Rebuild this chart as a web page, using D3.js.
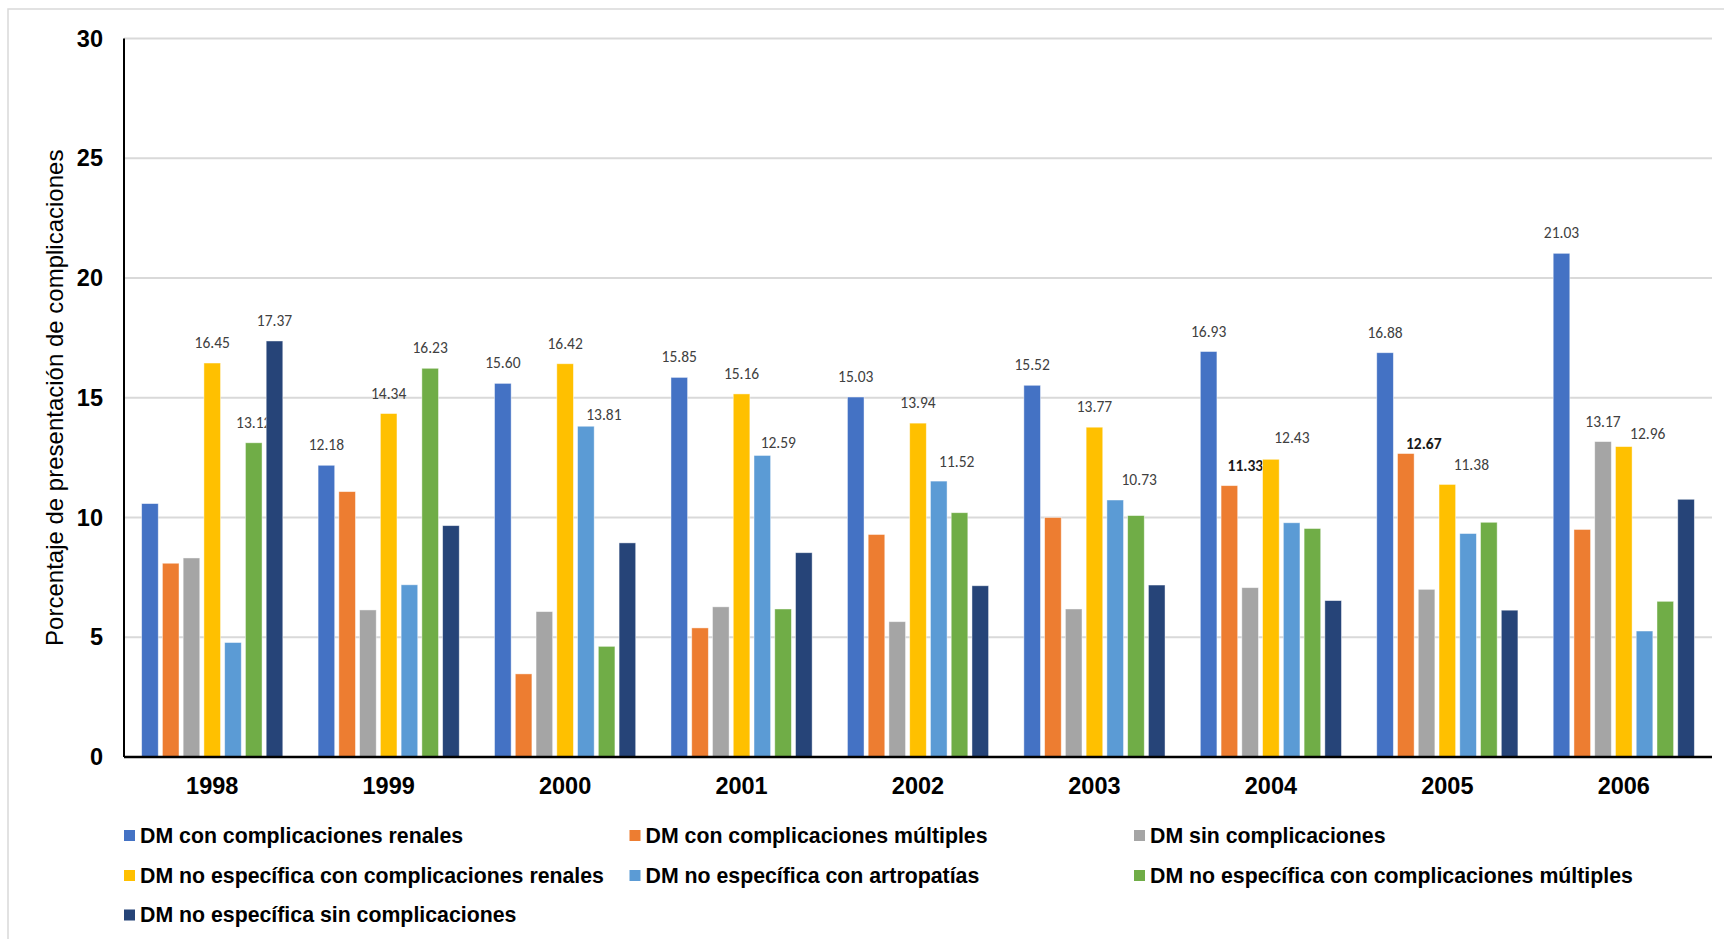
<!DOCTYPE html>
<html>
<head>
<meta charset="utf-8">
<script src="https://cdn.jsdelivr.net/npm/d3@7"></script>
<style>
  html, body { margin: 0; padding: 0; background: #ffffff; }
  svg { display: block; }
</style>
</head>
<body>
<svg id="chart" width="1724" height="939"></svg>
<script>
// Years on the category axis
const years = ["1998", "1999", "2000", "2001", "2002", "2003", "2004", "2005", "2006"];

// Series (legend order)
const seriesNames = [
  "DM con complicaciones renales",
  "DM con complicaciones múltiples",
  "DM sin complicaciones",
  "DM no específica con complicaciones renales",
  "DM no específica con artropatías",
  "DM no específica con complicaciones múltiples",
  "DM no específica sin complicaciones"
];

// Percentage of presentation, one value per year
const conRenales        = [10.58, 12.18, 15.60, 15.85, 15.03, 15.52, 16.93, 16.88, 21.03];
const conMultiples      = [8.09, 11.08, 3.47, 5.39, 9.29, 10.00, 11.33, 12.67, 9.50];
const sinComplicaciones = [8.31, 6.14, 6.07, 6.27, 5.65, 6.18, 7.07, 7.00, 13.17];
const noEspRenales      = [16.45, 14.34, 16.42, 15.16, 13.94, 13.77, 12.43, 11.38, 12.96];
const noEspArtropatias  = [4.78, 7.19, 13.81, 12.59, 11.52, 10.73, 9.78, 9.33, 5.26];
const noEspMultiples    = [13.12, 16.23, 4.62, 6.18, 10.20, 10.08, 9.54, 9.80, 6.50];
const noEspSin          = [17.37, 9.66, 8.94, 8.53, 7.15, 7.18, 6.53, 6.13, 10.76];

const seriesValues = [conRenales, conMultiples, sinComplicaciones, noEspRenales,
                      noEspArtropatias, noEspMultiples, noEspSin];

// Bars that carry a value label: [year, series index]
const labelledBars = [
  ["1998", 3], ["1998", 5], ["1998", 6],
  ["1999", 0], ["1999", 3], ["1999", 5],
  ["2000", 0], ["2000", 3], ["2000", 4],
  ["2001", 0], ["2001", 3], ["2001", 4],
  ["2002", 0], ["2002", 3], ["2002", 4],
  ["2003", 0], ["2003", 3], ["2003", 4],
  ["2004", 0], ["2004", 1], ["2004", 3],
  ["2005", 0], ["2005", 1], ["2005", 3],
  ["2006", 0], ["2006", 2], ["2006", 3]
];
const boldLabels = [["2004", 1], ["2005", 1]];

// Value axis ticks
const yTicks = [0, 5, 10, 15, 20, 25, 30];

// ---- styling / layout ----
const colors = ["#4472C4", "#ED7D31", "#A5A5A5", "#FFC000", "#5B9BD5", "#70AD47", "#264478"];
const labelNudge = {          // [dx, dy] in px for labels moved off their bar
  "2000-4": [18, 9], "2001-4": [16, 8], "2002-4": [18, 1], "2003-4": [24, 0],
  "2004-1": [16, 0], "2004-3": [21, -1],
  "2005-1": [18, 10], "2005-3": [24, 1],
  "2006-3": [24, 7]
};
const margin = { left: 124, right: 1712, top: 38.5, bottom: 757 };
const arial = "'Liberation Sans', Arial, Helvetica, sans-serif";
const calibri = "Carlito, Calibri, Lato, 'Open Sans', sans-serif";

const svg = d3.select("#chart");

// chart frame
svg.append("path")
  .attr("d", "M8,939 V9 H1724")
  .attr("fill", "none")
  .attr("stroke", "#d9d9d9")
  .attr("stroke-width", 1.5);

const x0 = d3.scaleBand()
  .domain(years)
  .range([margin.left, margin.right])
  .paddingInner(0.2)
  .paddingOuter(0.1);

const x1 = d3.scaleBand()
  .domain(d3.range(seriesNames.length))
  .range([0, x0.bandwidth()])
  .paddingInner(0.2)
  .paddingOuter(0);

const y = d3.scaleLinear()
  .domain([0, 30])
  .range([margin.bottom, margin.top]);

// gridlines
svg.append("g")
  .selectAll("line")
  .data(yTicks.filter(t => t > 0))
  .join("line")
  .attr("x1", margin.left)
  .attr("x2", margin.right)
  .attr("y1", d => y(d))
  .attr("y2", d => y(d))
  .attr("stroke", "#d9d9d9")
  .attr("stroke-width", 2);

// y tick labels via d3 axis
const yAxis = svg.append("g")
  .attr("transform", `translate(${margin.left},0)`)
  .call(d3.axisLeft(y).tickValues(yTicks).tickSize(0).tickPadding(21).tickFormat(d3.format("d")));
yAxis.select(".domain").remove();
yAxis.selectAll("text")
  .attr("font-family", arial)
  .attr("font-weight", "bold")
  .attr("font-size", "23.5px")
  .attr("fill", "#000");

// bars and their labels, series by series
const isLabelled = (yr, s) => labelledBars.some(([a, b]) => a === yr && b === s);
const isBold = (yr, s) => boldLabels.some(([a, b]) => a === yr && b === s);

seriesValues.forEach((vals, s) => {
  const g = svg.append("g").attr("class", "series");
  const rows = years.map((yr, i) => ({ yr, v: vals[i] }));
  g.selectAll("rect")
    .data(rows)
    .join("rect")
    .attr("x", d => x0(d.yr) + x1(s))
    .attr("width", x1.bandwidth())
    .attr("y", d => y(d.v))
    .attr("height", d => y(0) - y(d.v))
    .attr("fill", colors[s])
    .attr("stroke", "#ffffff")
    .attr("stroke-opacity", 0.55)
    .attr("stroke-width", 0.8);

  g.selectAll("text")
    .data(rows.filter(d => isLabelled(d.yr, s)))
    .join("text")
    .attr("x", d => x0(d.yr) + x1(s) + x1.bandwidth() / 2 + ((labelNudge[d.yr + "-" + s] || [0, 0])[0]))
    .attr("y", d => y(d.v) - 15 + ((labelNudge[d.yr + "-" + s] || [0, 0])[1]))
    .attr("text-anchor", "middle")
    .attr("font-family", calibri)
    .attr("font-size", "15.5px")
    .attr("font-weight", d => isBold(d.yr, s) ? "bold" : "normal")
    .attr("fill", d => isBold(d.yr, s) ? "#1a1a1a" : "#404040")
    .text(d => d.v.toFixed(2));
});

// axis lines
svg.append("line")
  .attr("x1", margin.left).attr("x2", margin.left)
  .attr("y1", y(30)).attr("y2", y(0))
  .attr("stroke", "#000").attr("stroke-width", 2);

const xAxis = svg.append("g")
  .attr("transform", `translate(0,${y(0)})`)
  .call(d3.axisBottom(x0).tickSize(0).tickPadding(20));
xAxis.select(".domain")
  .attr("stroke", "#000")
  .attr("stroke-width", 2.5)
  .attr("d", `M${margin.left},0H${margin.right}`);
xAxis.selectAll("text")
  .attr("font-family", arial)
  .attr("font-weight", "bold")
  .attr("font-size", "23.5px")
  .attr("fill", "#000");

// y axis title
svg.append("text")
  .attr("transform", `translate(63,${(y(0) + y(30)) / 2}) rotate(-90)`)
  .attr("text-anchor", "middle")
  .attr("font-family", arial)
  .attr("font-size", "24px")
  .attr("fill", "#000")
  .text("Porcentaje de presentación de complicaciones");

// legend: three columns
const legendCols = [124, 629.5, 1134];
const legendRows = [835.5, 875.5, 915];
const legend = svg.append("g")
  .selectAll("g")
  .data(seriesNames)
  .join("g")
  .attr("transform", (d, i) => `translate(${legendCols[i % 3]},${legendRows[Math.floor(i / 3)]})`);
legend.append("rect")
  .attr("x", 0).attr("y", -5.5)
  .attr("width", 11).attr("height", 11)
  .attr("fill", (d, i) => colors[i]);
legend.append("text")
  .attr("x", 16)
  .attr("y", 7)
  .attr("font-family", arial)
  .attr("font-weight", "bold")
  .attr("font-size", "21.3px")
  .attr("fill", "#000")
  .text(d => d);
</script>
</body>
</html>
